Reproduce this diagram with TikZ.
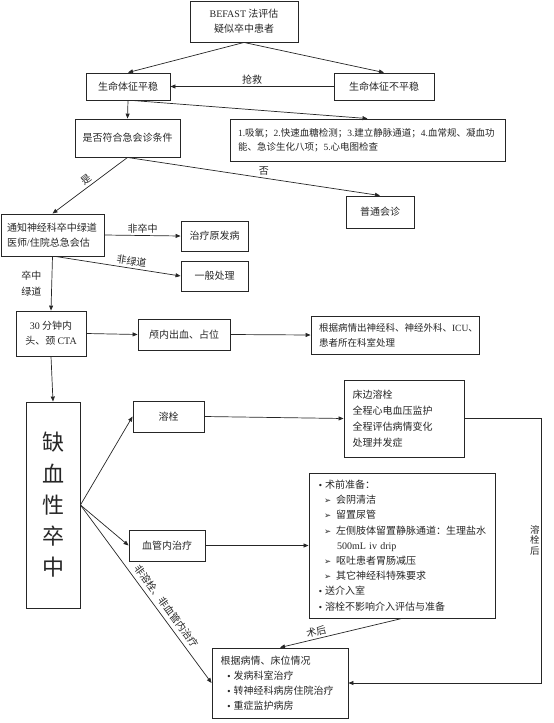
\documentclass[tikz,border=0pt]{standalone}
\usepackage{fontspec}
\setmainfont{Noto Sans CJK SC}
\newfontfamily\lat{Liberation Serif}
\newfontfamily\sym{DejaVu Sans}
\usetikzlibrary{arrows.meta}

\newcommand{\dotitem}{{\sym\fontsize{8}{8}\selectfont •}\kern2.5pt}
\newcommand{\arritem}{\hspace*{6pt}{\sym\fontsize{8.5}{8.5}\selectfont ➢}\kern5pt}

\begin{document}
\begin{tikzpicture}[
    x=1pt, y=-1pt,
    every node/.style={text=black!85},
    box/.style={draw=black!85, line width=0.9pt, minimum height=30pt, align=center,
                font=\fontsize{10}{15}\selectfont, inner sep=0pt},
    listbox/.style={box, align=left, inner xsep=8pt},
    arr/.style={-{Triangle[length=5pt,width=4pt]}, line width=0.7pt, draw=black!85},
    lbl/.style={font=\fontsize{10}{15}\selectfont, inner sep=2pt}
]
    \useasboundingbox (0,0) rectangle (554,723);

    \node[box, minimum width=108pt, minimum height=41pt] (befast) at (244,21.5) {{\lat BEFAST} 法评估\\疑似卒中患者};
    \node[box, minimum width=84pt, minimum height=27pt] (stable) at (128,86.5) {生命体征平稳};
    \node[box, minimum width=100pt, minimum height=27pt] (unstable) at (384,86.5) {生命体征不平稳};
    \node[box, minimum width=105pt, minimum height=38pt] (assess) at (127.5,138) {是否符合急会诊条件};
    \node[listbox, text width=259pt, minimum height=42pt, font=\fontsize{9.5}{14.3}\selectfont] (measures) at (367.5,140)
        {{\lat 1.}吸氧；{\lat 2.}快速血糖检测；{\lat 3.}建立静脉通道；{\lat 4.}血常规、凝血功\\能、急诊生化八项；{\lat 5.}心电图检查};
    \node[box, minimum width=68pt, minimum height=32pt] (routine) at (380,212) {普通会诊};

    \node[listbox, inner xsep=6pt, text width=91pt, minimum height=42pt] (notify) at (52.5,235)
        {通知神经科卒中绿道\\医师{\lat /}住院总急会估};
    \node[box, minimum width=67pt] (primary) at (214.5,236) {治疗原发病};
    \node[box, minimum width=67pt] (general) at (214.5,276) {一般处理};
    \node[box, minimum width=70pt, minimum height=45pt] (cta) at (51,333.5) {{\lat 30} 分钟内\\头、颈 {\lat CTA}};
    \node[box, minimum width=92pt, minimum height=31pt] (bleed) at (184,334.5) {颅内出血、占位};
    \node[listbox, text width=152pt, minimum height=38pt, font=\fontsize{9.5}{15}\selectfont] (refer) at (395,335)
        {根据病情出神经科、神经外科、{\lat ICU}、\\患者所在科室处理};

    \node[box, minimum width=54pt, minimum height=206pt, font=\fontsize{22}{31.25}\selectfont] (ischemic) at (53,505)
        {缺\\血\\性\\卒\\中};
    \node[box, minimum width=71pt, minimum height=31pt] (lysis) at (168.5,416.5) {溶栓};
    \node[box, minimum width=76pt, minimum height=31pt] (evt) at (167,545.5) {血管内治疗};
    \node[listbox, inner xsep=8.5pt, text width=103pt, minimum height=77pt, font=\fontsize{10}{16}\selectfont] (bedside) at (404,418.5)
        {床边溶栓\\全程心电血压监护\\全程评估病情变化\\处理并发症};
    \node[listbox, inner xsep=9pt, text width=168pt, minimum height=145pt, font=\fontsize{10}{15.2}\selectfont] (prep) at (402,545.5)
        {\dotitem 术前准备：\\
         \arritem 会阴清洁\\
         \arritem 留置尿管\\
         \arritem 左侧肢体留置静脉通道：生理盐水\\
         \hspace*{19pt}{\lat 500mL iv drip}\\
         \arritem 呕吐患者胃肠减压\\
         \arritem 其它神经科特殊要求\\
         \dotitem 送介入室\\
         \dotitem 溶栓不影响介入评估与准备};
    \node[listbox, inner xsep=8.5pt, text width=119pt, minimum height=70pt] (other) at (280,683)
        {根据病情、床位情况\\
         \hspace*{6pt}\dotitem 发病科室治疗\\
         \hspace*{6pt}\dotitem 转神经科病房住院治疗\\
         \hspace*{6pt}\dotitem 重症监护病房};

    \draw[arr] (befast.south) -- (stable.north);
    \draw[arr] (befast.south) -- (unstable.north);
    \draw[arr] (unstable.west) -- node[lbl, above] {抢救} (stable.east);
    \draw[arr] (stable.south) -- (assess.north);
    \draw[arr] ([xshift=4pt]stable.south) -- (measures.north);
    \draw[arr] (assess.south) -- node[lbl, above, sloped, pos=0.5] {是} (notify.north);
    \draw[arr] (assess.south) -- node[lbl, above, pos=0.54] {否} (routine.north);

    \draw[arr] (notify.east) -- node[lbl, above] {非卒中} (primary.west);
    \draw[arr] ([xshift=3pt]notify.south) -- node[lbl, above, sloped, pos=0.6] {非绿道} (general.west);
    \draw[arr] (notify.south) -- node[lbl, left, xshift=-8pt, align=center, font=\fontsize{10}{16}\selectfont] {卒中\\绿道} (cta.north);
    \draw[arr] (cta.east) -- (bleed.west);
    \draw[arr] (bleed.east) -- (refer.west);
    \draw[arr] (cta.south) -- (ischemic.north);

    \draw[arr] (ischemic.east) -- (lysis.west);
    \draw[arr] (ischemic.east) -- (evt.west);
    \draw[arr] (ischemic.east) -- node[lbl, above=2pt, sloped, pos=0.6] {非溶栓、非血管内治疗} (other.west);
    \draw[arr] (lysis.east) -- (bedside.west);
    \draw[arr] (evt.east) -- (prep.west);
    \draw[arr] (prep.south) -- node[lbl, above, sloped, pos=0.69] {术后} (other.north);
    \coordinate (lysisturn) at (541,683);
    \draw[arr] (bedside.east) -| node[lbl, left, pos=0.73, inner sep=1pt, align=center, font=\fontsize{9.5}{10.5}\selectfont] {溶\\栓\\后}
        (lysisturn) -- (other.east);
\end{tikzpicture}
\end{document}
